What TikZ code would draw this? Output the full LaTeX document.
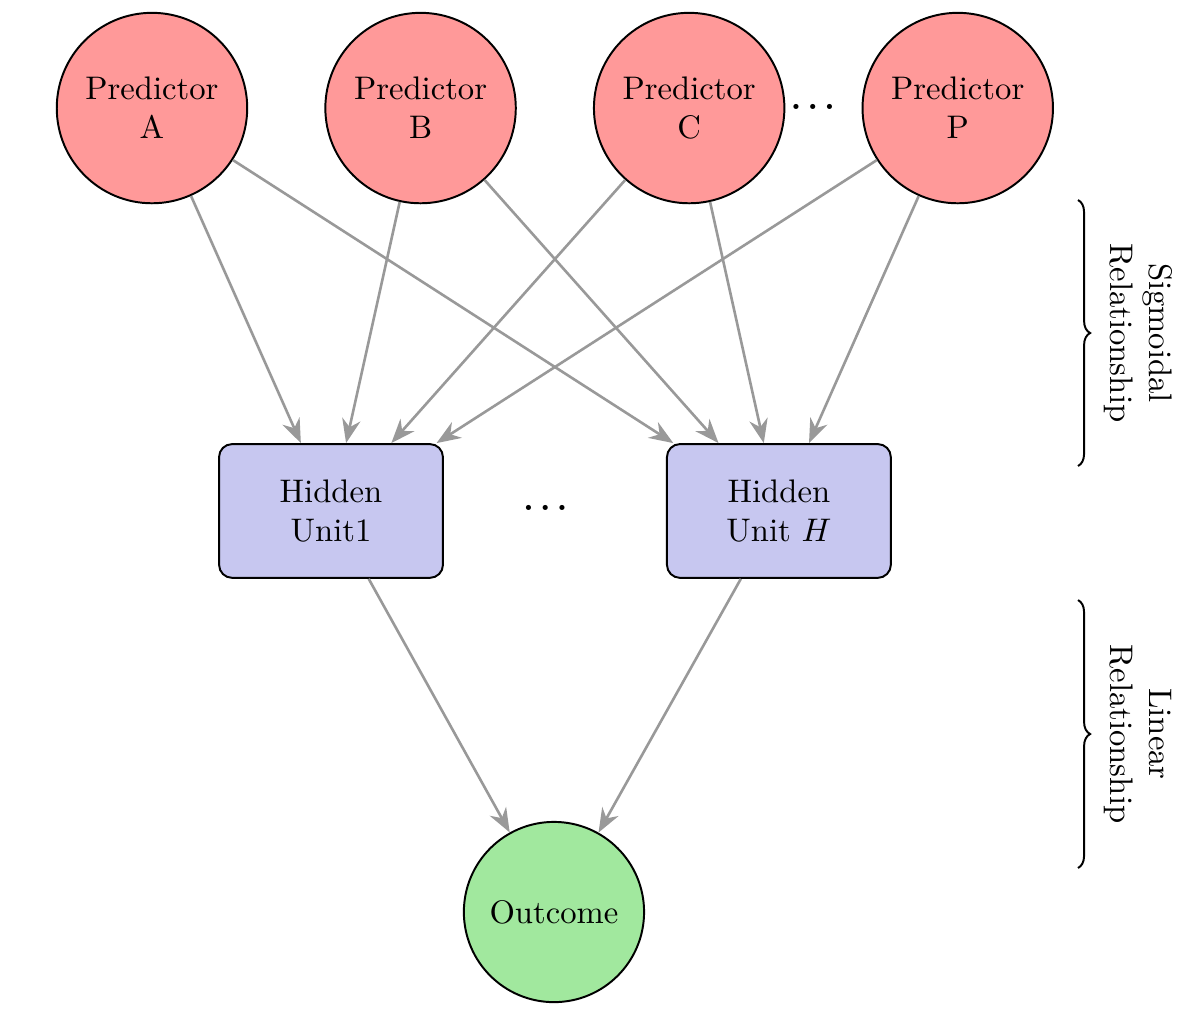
\documentclass[tikz,border=0pt]{standalone}
\usepackage{amsmath}
\usepackage{tikz}
\usetikzlibrary{arrows.meta, positioning, decorations.pathreplacing}
\definecolor{predfill}{rgb}{1.0,0.6,0.6}
\definecolor{hidfill}{rgb}{0.78,0.78,0.94}
\definecolor{outfill}{rgb}{0.63,0.91,0.62}
\definecolor{linkgray}{rgb}{0.6,0.6,0.6}

\begin{document}
\begin{tikzpicture}[
    pred/.style={circle, draw, semithick, fill=predfill, minimum size=2.05cm, align=center, inner sep=1pt},
    hidden/.style={rectangle, rounded corners, draw, semithick, fill=hidfill, minimum width=2.41cm, minimum height=1.44cm, align=center},
    outcome/.style={circle, draw, semithick, fill=outfill, minimum size=1.94cm, align=center, inner sep=1pt},
    arrow/.style={-{Stealth[length=2.6mm, width=2mm]}, thick, draw=linkgray},
    bracelabel/.style={midway, xshift=0.15cm, rotate=-90, anchor=south, align=center}
]
\useasboundingbox (0,0) rectangle (12.917,-10.893);

\node[pred] (predA) at (1.636,-1.163) {Predictor\\A};
\node[pred, right=0.82cm of predA] (predB) {Predictor\\B};
\node[pred, right=0.82cm of predB] (predC) {Predictor\\C};
\node[pred, right=0.82cm of predC] (predP) {Predictor\\P};
\node (pdots) at (8.75,-1.15) {$\boldsymbol{\ldots}$};

\node[hidden] (hid1) at (3.563,-5.50) {Hidden\\Unit1};
\node[hidden, right=2.39cm of hid1] (hidH) {Hidden\\Unit $H$};
\node (hdots) at (5.87,-5.47) {$\boldsymbol{\ldots}$};

\node[outcome] (out) at (5.963,-9.817) {Outcome};

\draw[arrow] (predA) -- (hid1);
\draw[arrow] (predA) -- (hidH);
\draw[arrow] (predB) -- (hid1);
\draw[arrow] (predB) -- (hidH);
\draw[arrow] (predC) -- (hid1);
\draw[arrow] (predC) -- (hidH);
\draw[arrow] (predP) -- (hid1);
\draw[arrow] (predP) -- (hidH);
\draw[arrow] (hid1) -- (out);
\draw[arrow] (hidH) -- (out);

% braces on the right
\draw[semithick, decorate, decoration={brace, amplitude=0.13cm}]
    (11.604,-2.153) -- (11.604,-5.016) node[bracelabel] {Sigmoidal\\Relationship};
\draw[semithick, decorate, decoration={brace, amplitude=0.13cm}]
    (11.604,-6.459) -- (11.604,-9.343) node[bracelabel] {Linear\\Relationship};

\end{tikzpicture}
\end{document}
